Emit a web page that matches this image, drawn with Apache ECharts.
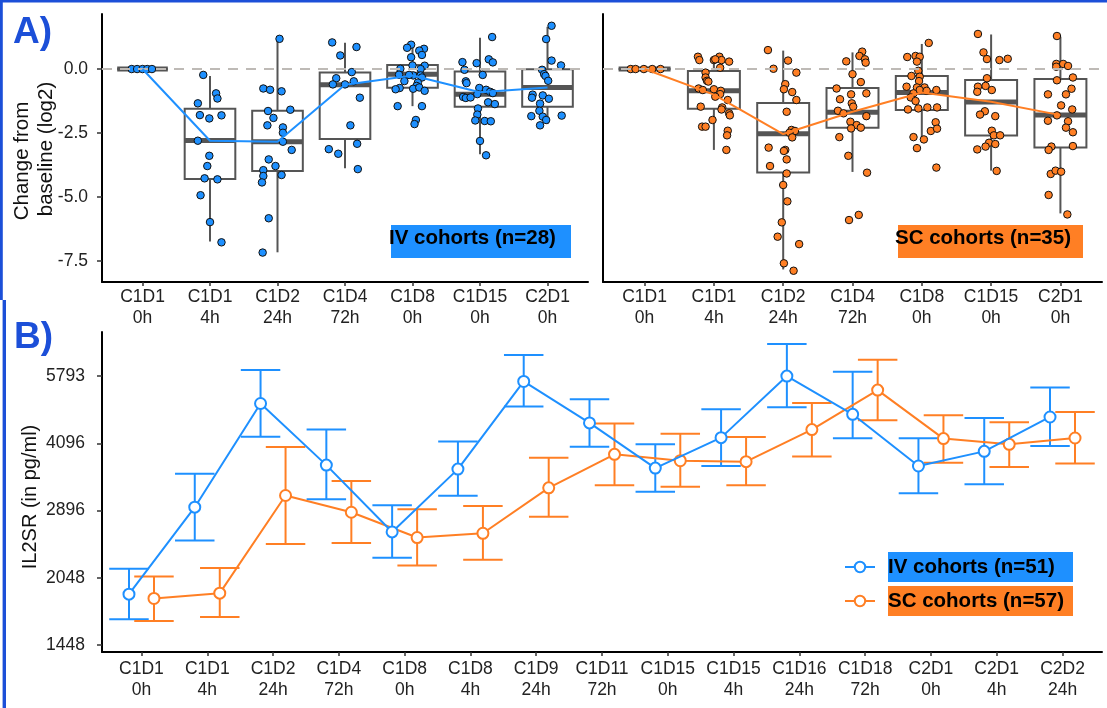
<!DOCTYPE html>
<html><head><meta charset="utf-8">
<script src="https://cdn.jsdelivr.net/npm/echarts@6/dist/echarts.min.js"></script>
<style>html,body{margin:0;padding:0;background:#fff}#c{width:1107px;height:708px}</style>
</head><body><div id="c"></div>
<script>
// ---------- data ----------
const catsA = ['C1D1\n0h','C1D1\n4h','C1D2\n24h','C1D4\n72h','C1D8\n0h','C1D15\n0h','C2D1\n0h'];
const catsB = ['C1D1\n0h','C1D1\n4h','C1D2\n24h','C1D4\n72h','C1D8\n0h','C1D8\n4h','C1D9\n24h','C1D11\n72h','C1D15\n0h','C1D15\n4h','C1D16\n24h','C1D18\n72h','C2D1\n0h','C2D1\n4h','C2D2\n24h'];
const ticksA = [-7.5, -5, -2.5, 0];
const ticksB = [1448, 2048, 2896, 4096, 5793];

// Panel A, IV cohorts: box statistics (log2 change)
const ivLow  = [0, -6.74, -7.16, -3.88, -1.45, -3.33, -2.15];
const ivQ1   = [0, -4.30, -3.98, -2.73, -0.73, -1.47, -1.47];
const ivMed  = [0, -2.79, -2.84, -0.61, -0.20, -0.99, -0.72];
const ivQ3   = [0, -1.55, -1.63, -0.14,  0.16, -0.10, -0.01];
const ivHigh = [0, -0.27,  1.18,  1.03,  0.95,  1.22,  1.65];
const ivMean = [0, -2.80, -2.84, -0.61, -0.25, -0.91, -0.72];
// individual patients: [jitter, value] per time point
const ivPoints = [
 [[-0.16,0],[-0.08,0],[0,0],[0.07,0],[0.14,0]],
 [[-0.10,-0.23],[0.09,-0.95],[0.11,-1.15],[-0.18,-1.34],[-0.15,-1.80],[-0.01,-1.93],[0.17,-1.81],[-0.18,-2.80],[-0.01,-3.39],[-0.04,-3.79],[-0.08,-4.27],[0.11,-4.31],[-0.14,-4.93],[0.0,-5.98],[0.17,-6.77]],
 [[0.03,1.18],[-0.21,-0.76],[-0.11,-0.81],[0.06,-0.87],[-0.14,-1.64],[0.19,-1.59],[-0.06,-1.91],[-0.15,-2.20],[0.08,-2.28],[0.08,-2.49],[0.08,-2.84],[0.21,-3.16],[-0.13,-3.53],[-0.03,-3.79],[-0.21,-3.95],[-0.21,-4.18],[0.06,-4.14],[-0.23,-4.43],[-0.13,-5.83],[-0.22,-7.17]],
 [[-0.19,1.04],[0.17,0.86],[-0.07,0.53],[0.10,-0.12],[-0.13,-0.36],[0.13,-0.48],[-0.18,-0.60],[0.0,-0.60],[0.22,-1.12],[0.08,-2.20],[0.18,-2.92],[-0.24,-3.13],[-0.10,-3.31],[0.19,-3.91]],
 [[-0.02,0.95],[-0.08,0.83],[0.17,0.79],[0.10,0.72],[0.14,0.55],[-0.02,0.46],[0.0,0.14],[0.18,0.13],[-0.18,0.01],[0.12,0.0],[-0.20,-0.22],[0.01,-0.25],[0.12,-0.25],[-0.05,-0.23],[0.14,-0.33],[-0.12,-0.47],[0.08,-0.53],[0.06,-0.66],[-0.19,-0.74],[-0.25,-0.79],[0.01,-0.77],[0.10,-0.72],[0.18,-0.85],[-0.22,-1.45],[0.14,-1.45],[0.05,-1.99],[0.03,-2.15]],
 [[0.18,1.25],[-0.26,0.27],[0.13,0.38],[-0.05,0.23],[0.19,0.26],[-0.23,-0.03],[0.04,-0.23],[-0.21,-0.48],[-0.20,-0.55],[-0.01,-0.74],[0.09,-0.81],[0.15,-0.89],[-0.04,-0.98],[0.19,-0.94],[-0.25,-1.09],[-0.21,-1.13],[-0.14,-1.11],[0.12,-1.30],[0.22,-1.37],[-0.03,-1.54],[-0.04,-1.78],[-0.07,-2.01],[0.07,-2.03],[0.16,-2.04],[0.0,-2.81],[0.09,-3.37]],
 [[0.06,1.69],[-0.02,1.17],[0.06,0.33],[0.20,0.14],[-0.08,-0.03],[-0.05,-0.20],[-0.03,-0.27],[0.01,-0.46],[-0.22,-1.00],[-0.07,-1.03],[-0.23,-1.12],[0.02,-1.16],[-0.11,-1.35],[-0.12,-1.63],[0.21,-1.82],[-0.24,-1.84],[-0.07,-1.86],[-0.02,-1.99],[-0.11,-2.20]]
];

// Panel A, SC cohorts
const scLow  = [0, -3.16, -7.83, -4.02, -2.77, -3.97, -5.64];
const scQ1   = [0, -1.55, -4.04, -2.29, -1.60, -2.60, -3.07];
const scMed  = [0, -0.85, -2.53, -1.69, -0.92, -1.29, -1.80];
const scQ3   = [0, -0.08, -1.33, -0.74, -0.27, -0.43, -0.39];
const scHigh = [0,  0.48,  0.72,  0.65,  0.98,  1.35,  1.26];
const scMean = [0, -1.00, -2.54, -1.67, -0.92, -1.28, -1.80];
const scPoints = [
 [[-0.2,0],[-0.13,0],[-0.01,0],[0.11,0],[0.23,0]],
 [[-0.23,0.48],[-0.21,0.35],[0.0,0.35],[0.08,0.48],[0.11,0.35],[0.22,0.29],[0.02,0.38],[0.09,0.05],[-0.12,-0.14],[-0.12,-0.33],[-0.10,-0.46],[-0.08,-0.49],[-0.22,-0.76],[-0.16,-0.82],[0.0,-0.79],[0.10,-0.85],[0.09,-0.98],[0.02,-1.08],[0.20,-1.21],[-0.19,-1.47],[0.12,-1.50],[0.11,-1.58],[0.22,-1.73],[0.23,-1.81],[-0.02,-1.99],[-0.17,-2.25],[-0.12,-2.25],[0.20,-2.41],[0.19,-2.59],[0.18,-3.16]],
 [[-0.22,0.74],[0.07,0.33],[-0.14,0.01],[0.19,-0.14],[0.03,-0.59],[0.01,-0.79],[0.13,-0.90],[0.19,-1.21],[0.05,-1.67],[0.12,-2.38],[0.17,-2.42],[0.09,-2.49],[0.13,-2.67],[-0.21,-3.07],[0.03,-3.16],[0.01,-3.20],[0.05,-3.53],[-0.19,-3.79],[0.05,-4.08],[0.0,-4.53],[0.06,-5.17],[-0.02,-5.99],[-0.08,-6.55],[0.23,-6.84],[0.01,-7.59],[0.15,-7.88]],
 [[0.14,0.68],[0.10,0.51],[0.18,0.38],[-0.09,0.30],[0.19,0.25],[0.0,-0.20],[0.12,-0.51],[-0.23,-0.76],[-0.02,-0.99],[0.20,-0.95],[-0.18,-1.18],[-0.01,-1.34],[0.01,-1.47],[-0.21,-1.63],[-0.13,-1.73],[0.20,-1.84],[-0.03,-2.06],[0.06,-2.19],[0.12,-2.29],[-0.02,-2.32],[-0.19,-2.66],[-0.06,-3.39],[0.21,-4.05],[0.09,-5.70],[-0.05,-5.90]],
 [[0.10,1.02],[-0.21,0.47],[-0.09,0.51],[-0.03,0.48],[-0.07,0.29],[-0.05,-0.07],[-0.15,-0.27],[-0.03,-0.30],[-0.04,-0.47],[-0.22,-0.69],[-0.07,-0.72],[0.04,-0.72],[-0.03,-0.82],[0.07,-0.85],[0.21,-0.82],[-0.12,-0.95],[-0.16,-1.11],[-0.09,-1.25],[-0.20,-1.58],[-0.05,-1.54],[0.08,-1.50],[0.22,-1.50],[0.20,-2.08],[0.13,-2.42],[0.22,-2.33],[-0.12,-2.66],[0.03,-2.75],[-0.07,-3.09],[0.21,-3.85]],
 [[-0.19,1.37],[-0.11,0.65],[-0.06,0.39],[0.12,0.35],[0.24,0.40],[-0.06,-0.36],[-0.19,-0.69],[-0.20,-0.89],[-0.08,-0.66],[0.01,-0.82],[-0.09,-1.65],[-0.16,-1.78],[0.06,-1.84],[0.01,-2.41],[0.04,-2.59],[0.13,-2.59],[-0.03,-2.88],[-0.08,-3.03],[-0.20,-3.14],[0.06,-2.93],[0.08,-3.98]],
 [[-0.05,1.29],[-0.06,0.20],[0.04,0.20],[-0.06,0.09],[0.11,0.12],[0.18,-0.33],[-0.05,-0.44],[0.16,-0.77],[-0.18,-0.99],[0.08,-0.99],[0.01,-1.42],[0.17,-1.58],[-0.05,-1.81],[-0.18,-2.02],[0.11,-2.04],[0.08,-2.29],[0.18,-2.47],[-0.13,-3.03],[-0.17,-3.16],[0.18,-3.01],[-0.14,-4.10],[-0.07,-3.97],[0.01,-4.01],[-0.17,-4.92],[0.10,-5.68]]
];

// Panel B, IL2SR (pg/ml): mean and error-bar limits
const ivMeanB = [1882, 2947, 5029, 3661, 2594, 3586, 5635, 4550, 3605, 4218, 5793, 4757, 3644, 3930, 4692];
const ivLoB   = [1654, 2483, 4240, 3070, 2271, 3126, 4953, 4025, 3190, 3644, 4935, 4203, 3167, 3318, 4040];
const ivHiB   = [2145, 3502, 5975, 4401, 2978, 4133, 6459, 5141, 4075, 4884, 6836, 5922, 4203, 4670, 5465];
const scMeanB = [1841, 1892, 3130, 2871, 2520, 2576, 3256, 3870, 3745, 3726, 4396, 5389, 4197, 4075, 4210];
const scLoB   = [1640, 1674, 2437, 2450, 2183, 2248, 2804, 3302, 3274, 3302, 3829, 4614, 3708, 3624, 3690];
const scHiB   = [2062, 2153, 4018, 3371, 2916, 2967, 3803, 4535, 4305, 4232, 5045, 6306, 4734, 4564, 4816];

// ---------- styling ----------
const BLUE = '#1E90FF', ORANGE = '#FF7F24', FONT = "'Liberation Sans', Arial, sans-serif";
const BOXC = '#555555';
const dodge = 0.19;

function boxData(lo, q1, md, q3, hi) { return lo.map((v, i) => [i + 1, lo[i], q1[i], md[i], q3[i], hi[i]]); }
function ptData(pts) { const d = []; pts.forEach((arr, i) => arr.forEach(p => d.push([i + 1 + p[0], p[1]]))); return d; }
function meanData(m) { return m.map((v, i) => [i + 1, v]); }

function boxRender(params, api) {
  const x = api.value(0), lo = api.value(1), q1 = api.value(2), md = api.value(3), q3 = api.value(4), hi = api.value(5);
  const hw = 0.375;
  const tl = api.coord([x - hw, q3]), br = api.coord([x + hw, q1]);
  const pHi = api.coord([x, hi]), pLo = api.coord([x, lo]);
  const mL = api.coord([x - hw, md]), mR = api.coord([x + hw, md]);
  const st = { stroke: BOXC, lineWidth: 2 };
  return { type: 'group', children: [
    { type: 'line', shape: { x1: pHi[0], y1: pHi[1], x2: pHi[0], y2: tl[1] }, style: st },
    { type: 'line', shape: { x1: pLo[0], y1: br[1], x2: pLo[0], y2: pLo[1] }, style: st },
    { type: 'rect', shape: { x: tl[0], y: tl[1], width: br[0] - tl[0], height: br[1] - tl[1] }, style: { stroke: BOXC, lineWidth: 2, fill: '#fff' } },
    { type: 'line', shape: { x1: mL[0], y1: mL[1], x2: mR[0], y2: mR[1] }, style: { stroke: BOXC, lineWidth: 5 } }
  ]};
}
function errRender(params, api) {
  const x = api.value(0), lo = api.value(1), hi = api.value(2);
  const pLo = api.coord([x, lo]), pHi = api.coord([x, hi]);
  const cw = api.size([0.3, 0])[0];
  const st = { stroke: api.visual('color'), lineWidth: 2 };
  return { type: 'group', children: [
    { type: 'line', shape: { x1: pLo[0], y1: pLo[1], x2: pHi[0], y2: pHi[1] }, style: st },
    { type: 'line', shape: { x1: pLo[0] - cw, y1: pLo[1], x2: pLo[0] + cw, y2: pLo[1] }, style: st },
    { type: 'line', shape: { x1: pHi[0] - cw, y1: pHi[1], x2: pHi[0] + cw, y2: pHi[1] }, style: st }
  ]};
}

const tickLabel = { fontSize: 17.5, color: '#222', fontFamily: FONT };
function xAxisA(grid) {
  return { type: 'value', gridIndex: grid, min: 0.4, max: 7.6,
    axisLine: { show: true, onZero: false, lineStyle: { color: '#000', width: 2 } },
    axisTick: { show: true, customValues: catsA.map((c, i) => i + 1), length: 4, lineStyle: { color: '#333', width: 1.5 } },
    axisLabel: Object.assign({ show: true, customValues: catsA.map((c, i) => i + 1), formatter: v => catsA[Math.round(v) - 1], lineHeight: 21, margin: 5 }, tickLabel),
    splitLine: { show: false } };
}
function yAxisA(grid, showLabels) {
  return { type: 'value', gridIndex: grid, min: -8.32, max: 2.15,
    axisLine: { show: true, onZero: false, lineStyle: { color: '#000', width: 2 } },
    axisTick: { show: showLabels, customValues: ticksA, length: 5, lineStyle: { color: '#333', width: 1.5 } },
    axisLabel: Object.assign({ show: showLabels, customValues: ticksA, formatter: v => v.toFixed(1), margin: 14 }, tickLabel),
    splitLine: { show: false } };
}

function panelASeries(grid, color, lo, q1, md, q3, hi, mean, pts) {
  return [
    { type: 'custom', name: 'box' + grid, xAxisIndex: grid, yAxisIndex: grid, renderItem: boxRender,
      data: boxData(lo, q1, md, q3, hi), encode: { x: 0, y: [1, 2, 3, 4, 5] }, z: 2, silent: true },
    { type: 'line', name: 'zero' + grid, xAxisIndex: grid, yAxisIndex: grid, data: [], z: 3,
      markLine: { silent: true, symbol: 'none', label: { show: false },
        lineStyle: { color: '#BEBAB6', width: 2, type: [10, 8] }, data: [{ yAxis: 0 }] } },
    { type: 'scatter', name: 'pts' + grid, xAxisIndex: grid, yAxisIndex: grid, data: ptData(pts), z: 4,
      symbolSize: 7.5, itemStyle: { color: color, borderColor: '#111', borderWidth: 1, opacity: 1 } },
    { type: 'line', name: 'mean' + grid, xAxisIndex: grid, yAxisIndex: grid, data: meanData(mean), z: 5,
      symbol: 'none', lineStyle: { color: color, width: 2 } }
  ];
}

const l2 = Math.log2;
function errData(lo, hi, off) { return lo.map((v, i) => [i + 1 + off, l2(lo[i]), l2(hi[i])]); }
function lineData(m, off) { return m.map((v, i) => [i + 1 + off, l2(v)]); }

const option = {
  animation: false,
  backgroundColor: '#fff',
  textStyle: { fontFamily: FONT },
  grid: [
    { left: 102, top: 14, width: 486, height: 268 },
    { left: 603, top: 14, width: 499, height: 268 },
    { left: 102, top: 332, width: 1000, height: 320 }
  ],
  xAxis: [ xAxisA(0), xAxisA(1),
    { type: 'value', gridIndex: 2, min: 0.4, max: 15.6,
      axisLine: { show: true, onZero: false, lineStyle: { color: '#000', width: 2 } },
      axisTick: { show: true, customValues: catsB.map((c, i) => i + 1), length: 4, lineStyle: { color: '#333', width: 1.5 } },
      axisLabel: Object.assign({ show: true, customValues: catsB.map((c, i) => i + 1), formatter: v => catsB[Math.round(v) - 1], lineHeight: 21, margin: 7 }, tickLabel),
      splitLine: { show: false } } ],
  yAxis: [ yAxisA(0, true), yAxisA(1, false),
    { type: 'value', gridIndex: 2, min: 10.448, max: 12.828,
      axisLine: { show: true, onZero: false, lineStyle: { color: '#000', width: 2 } },
      axisTick: { show: true, customValues: ticksB.map(l2), length: 5, lineStyle: { color: '#333', width: 1.5 } },
      axisLabel: Object.assign({ show: true, customValues: ticksB.map(l2), formatter: v => String(Math.round(Math.pow(2, v))), margin: 17 }, tickLabel),
      splitLine: { show: false } } ],
  legend: {
    orient: 'vertical', left: 844, top: 552, padding: 0, itemGap: 4, itemWidth: 30, itemHeight: 13,
    data: ['IV cohorts (n=51)', 'SC cohorts (n=57)'],
    formatter: n => '{g|}{' + (n.indexOf('IV') === 0 ? 'iv' : 'sc') + '|' + n + '}',
    textStyle: { rich: {
      g: { width: 8 },
      iv: { backgroundColor: BLUE, width: 185, height: 30, lineHeight: 30, fontSize: 20.5, fontWeight: 'bold', color: '#000', fontFamily: FONT },
      sc: { backgroundColor: ORANGE, width: 185, height: 30, lineHeight: 30, fontSize: 20.5, fontWeight: 'bold', color: '#000', fontFamily: FONT }
    } }
  },
  series: [].concat(
    panelASeries(0, BLUE, ivLow, ivQ1, ivMed, ivQ3, ivHigh, ivMean, ivPoints),
    panelASeries(1, ORANGE, scLow, scQ1, scMed, scQ3, scHigh, scMean, scPoints),
    [
      { type: 'custom', name: 'IV err', xAxisIndex: 2, yAxisIndex: 2, renderItem: errRender, data: errData(ivLoB, ivHiB, -dodge),
        encode: { x: 0, y: [1, 2] }, itemStyle: { color: BLUE }, z: 2, silent: true },
      { type: 'custom', name: 'SC err', xAxisIndex: 2, yAxisIndex: 2, renderItem: errRender, data: errData(scLoB, scHiB, dodge),
        encode: { x: 0, y: [1, 2] }, itemStyle: { color: ORANGE }, z: 2, silent: true },
      { type: 'line', name: 'IV cohorts (n=51)', xAxisIndex: 2, yAxisIndex: 2, data: lineData(ivMeanB, -dodge), z: 4,
        symbol: 'emptyCircle', symbolSize: 11, lineStyle: { color: BLUE, width: 2 },
        itemStyle: { color: BLUE, borderColor: BLUE, borderWidth: 2 } },
      { type: 'line', name: 'SC cohorts (n=57)', xAxisIndex: 2, yAxisIndex: 2, data: lineData(scMeanB, dodge), z: 3,
        symbol: 'emptyCircle', symbolSize: 11, lineStyle: { color: ORANGE, width: 2 },
        itemStyle: { color: ORANGE, borderColor: ORANGE, borderWidth: 2 } }
    ]
  ),
  graphic: [
    { type: 'rect', shape: { x: 0, y: 0, width: 1107, height: 2.5 }, style: { fill: '#1C4FD8' }, silent: true },
    { type: 'rect', shape: { x: 0, y: 0, width: 2.8, height: 300 }, style: { fill: '#1C4FD8' }, silent: true },
    { type: 'rect', shape: { x: 2.6, y: 300, width: 3.4, height: 408 }, style: { fill: '#1C4FD8' }, silent: true },
    { type: 'text', x: 13, y: 51, style: { text: 'A)', font: "bold 37px 'Liberation Sans', Arial, sans-serif", fill: '#1C4FD8', verticalAlign: 'bottom' } },
    { type: 'text', x: 14, y: 356, style: { text: 'B)', font: "bold 37px 'Liberation Sans', Arial, sans-serif", fill: '#1C4FD8', verticalAlign: 'bottom' } },
    { type: 'text', x: 22, y: 161, rotation: Math.PI / 2, style: { x: 0, y: 0, text: 'Change from', font: "20.5px 'Liberation Sans', Arial, sans-serif", fill: '#111', align: 'center', verticalAlign: 'middle' } },
    { type: 'text', x: 46, y: 149, rotation: Math.PI / 2, style: { x: 0, y: 0, text: 'baseline (log2)', font: "20.5px 'Liberation Sans', Arial, sans-serif", fill: '#111', align: 'center', verticalAlign: 'middle' } },
    { type: 'text', x: 30, y: 497, rotation: Math.PI / 2, style: { x: 0, y: 0, text: 'IL2SR (in pg/ml)', font: "20px 'Liberation Sans', Arial, sans-serif", fill: '#111', align: 'center', verticalAlign: 'middle' } },
    { type: 'rect', shape: { x: 391, y: 225, width: 180, height: 33 }, style: { fill: BLUE }, silent: true },
    { type: 'text', x: 389, y: 238, style: { text: 'IV cohorts (n=28)', font: "bold 20.5px 'Liberation Sans', Arial, sans-serif", fill: '#000', align: 'left', verticalAlign: 'middle' } },
    { type: 'rect', shape: { x: 898, y: 225, width: 185, height: 33 }, style: { fill: ORANGE }, silent: true },
    { type: 'text', x: 895, y: 238, style: { text: 'SC cohorts (n=35)', font: "bold 20.5px 'Liberation Sans', Arial, sans-serif", fill: '#000', align: 'left', verticalAlign: 'middle' } }
  ]
};

const chart = echarts.init(document.getElementById('c'), null, { renderer: 'canvas' });
chart.setOption(option);
</script>
</body></html>
